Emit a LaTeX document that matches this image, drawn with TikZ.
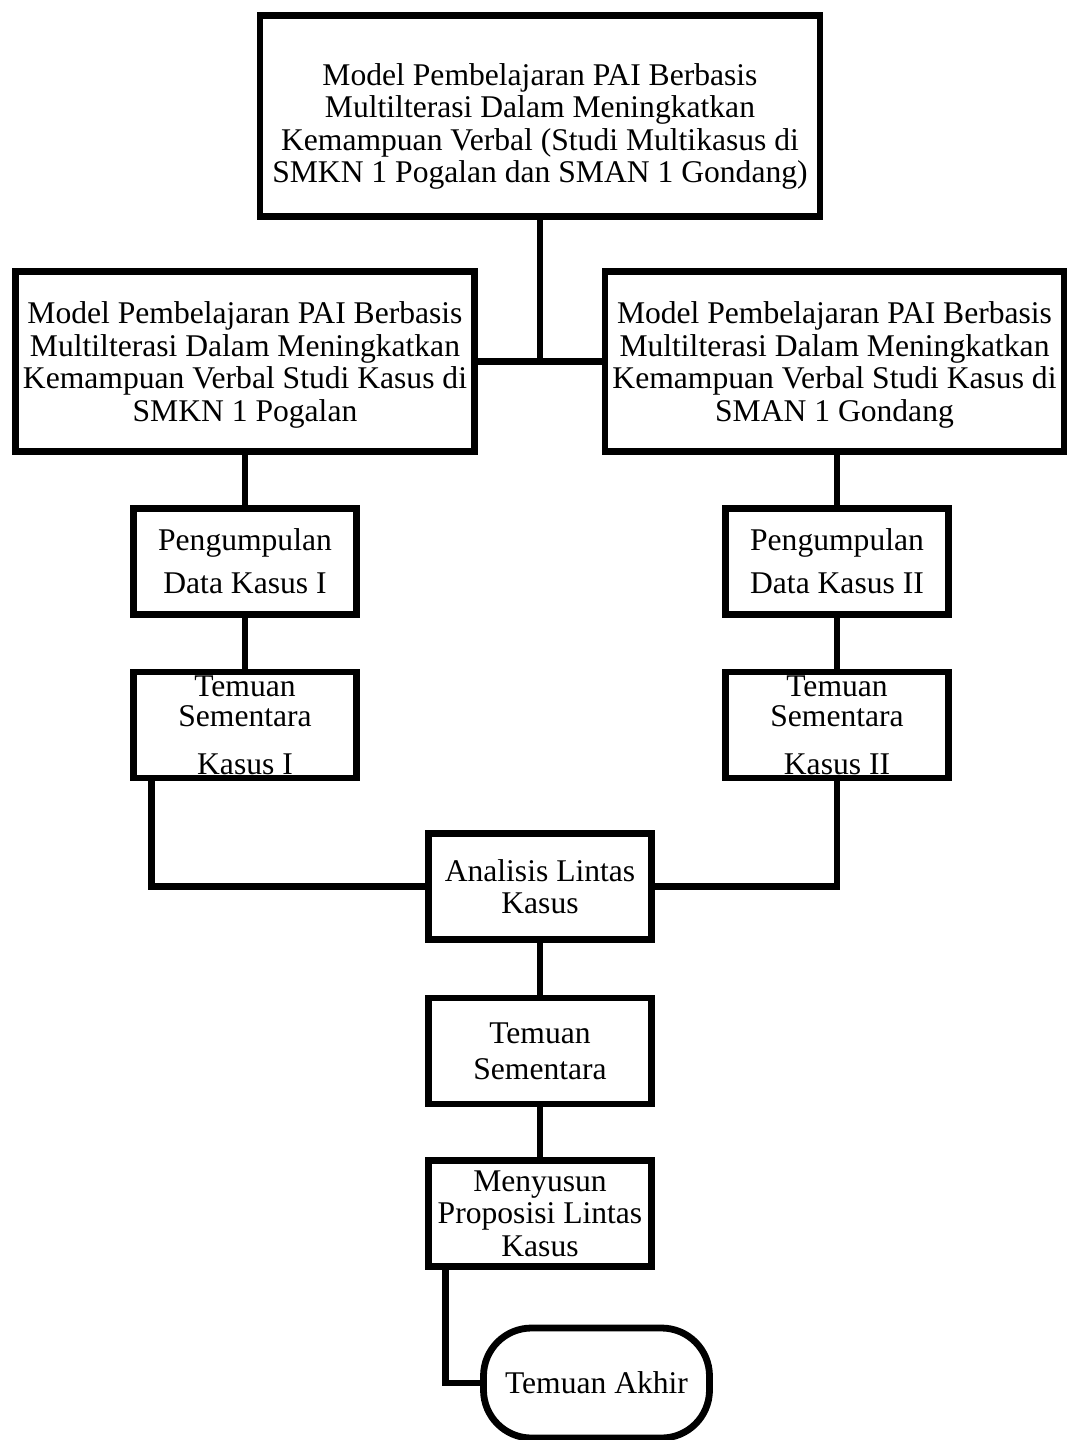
\documentclass[tikz,border=0pt]{standalone}
\usepackage{fontspec}
\setmainfont{Liberation Serif}
\usetikzlibrary{positioning}
\newcommand{\boxFont}[0]{\fontsize{15.8}{16.2}\selectfont}

\begin{document}
\begin{tikzpicture}[x=0.5pt, y=-0.5pt]
  \tikzset{box/.style={draw, line width=3.4pt, rectangle, align=center,
      inner sep=0pt, font=\boxFont},
    bigBox/.style={box, minimum width=280pt, minimum height=100.5pt, text height=70pt, text depth=3.5pt},
    caseBox/.style={box, minimum width=229.5pt, minimum height=90pt, text depth=0pt},
    stepBox/.style={box, minimum width=111.5pt, minimum height=53pt},
    endBox/.style={box, rounded corners=24pt, minimum width=113pt, minimum height=55pt},
    link/.style={line width=3.4pt}}
  \useasboundingbox (0,0) rectangle (1068,1440);
  % judul utama
  \node[bigBox] (top) at (540,116)
    {Model Pembelajaran PAI Berbasis\\Multilterasi Dalam Meningkatkan\\Kemampuan Verbal (Studi Multikasus di\\SMKN 1 Pogalan dan SMAN 1 Gondang)};
  % dua kasus
  \node[caseBox] (caseOne) at (245,361.5)
    {Model Pembelajaran PAI Berbasis\\Multilterasi Dalam Meningkatkan\\Kemampuan Verbal Studi Kasus di\\SMKN 1 Pogalan};
  \node[caseBox] (caseTwo) at (834.5,361.5)
    {Model Pembelajaran PAI Berbasis\\Multilterasi Dalam Meningkatkan\\Kemampuan Verbal Studi Kasus di\\SMAN 1 Gondang};
  \node[stepBox, text depth=0.5pt] (dataOne) at (245,561.5) {Pengumpulan\\[5pt]Data Kasus I};
  \node[stepBox, text depth=0.5pt] (dataTwo) at (837,561.5) {Pengumpulan\\[5pt]Data Kasus II};
  \node[stepBox] (findOne) at (245,725) {Temuan\\[-1.2pt]Sementara\\[7.8pt]Kasus I};
  \node[stepBox] (findTwo) at (837,725) {Temuan\\[-1.2pt]Sementara\\[7.8pt]Kasus II};
  % lintas kasus
  \node[stepBox] (cross) at (540,886.5) {Analisis Lintas\\Kasus};
  \node[stepBox, text depth=0pt] (interim) at (540,1051) {Temuan\\[2pt]Sementara};
  \node[stepBox] (prop) at (540,1213.5) {Menyusun\\Proposisi Lintas\\Kasus};
  \node[endBox] (final) at (596.5,1383) {Temuan Akhir};

  \draw[link] (top.south) -- (top.south |- caseOne.east);
  \draw[link] (caseOne.east) -- (caseTwo.west);
  \draw[link] (caseOne.south) -- (dataOne.north);
  \draw[link] (dataTwo.north) -- (dataTwo.north |- caseTwo.south);
  \draw[link] (dataOne.south) -- (findOne.north);
  \draw[link] (dataTwo.south) -- (findTwo.north);
  \draw[link] ([xshift=10.75pt]findOne.south west) |- (cross.west);
  \draw[link] (findTwo.south) |- (cross.east);
  \draw[link] (cross.south) -- (interim.north);
  \draw[link] (interim.south) -- (prop.north);
  \draw[link] ([xshift=10pt]prop.south west) |- (final.west);
\end{tikzpicture}
\end{document}
